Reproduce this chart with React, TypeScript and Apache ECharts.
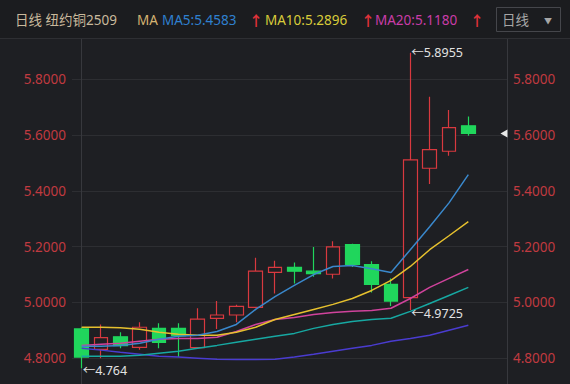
import React, { useEffect, useRef } from "react";
import * as echarts from "echarts";

// ---- data ----
const opens = [4.905, 4.832, 4.877, 4.839, 4.907, 4.907, 4.838, 4.943, 4.955, 4.982, 5.108, 5.126, 5.112, 5.101, 5.207, 5.136, 5.065, 5.017, 5.481, 5.542, 5.633];
const closes = [4.804, 4.874, 4.845, 4.911, 4.857, 4.881, 4.94, 4.955, 4.986, 5.112, 5.126, 5.112, 5.103, 5.199, 5.136, 5.065, 5.005, 5.511, 5.548, 5.627, 5.606];
const lows = [4.764, 4.8, 4.836, 4.83, 4.836, 4.804, 4.836, 4.905, 4.929, 4.979, 5.032, 5.068, 5.092, 5.086, 5.127, 5.036, 4.987, 4.9725, 5.425, 5.526, 5.598];
const highs = [4.91, 4.921, 4.893, 4.929, 4.925, 4.925, 4.979, 5.005, 4.992, 5.16, 5.149, 5.143, 5.199, 5.219, 5.21, 5.148, 5.086, 5.8955, 5.737, 5.69, 5.667];

const ma5 = [4.843, 4.843, 4.846, 4.854, 4.868, 4.879, 4.882, 4.896, 4.921, 4.975, 5.021, 5.061, 5.1, 5.129, 5.132, 5.121, 5.107, 5.189, 5.271, 5.357, 5.4583];
const ma10 = [4.911, 4.911, 4.909, 4.904, 4.893, 4.886, 4.882, 4.882, 4.893, 4.911, 4.939, 4.957, 4.975, 4.993, 5.014, 5.043, 5.079, 5.129, 5.189, 5.239, 5.2896];
const ma20 = [4.846, 4.85, 4.854, 4.861, 4.868, 4.871, 4.871, 4.875, 4.896, 4.921, 4.939, 4.946, 4.957, 4.964, 4.968, 4.971, 4.979, 5.014, 5.054, 5.086, 5.118];
const maTeal = [4.807, 4.807, 4.807, 4.811, 4.818, 4.825, 4.836, 4.846, 4.857, 4.868, 4.879, 4.889, 4.907, 4.921, 4.932, 4.939, 4.943, 4.968, 4.996, 5.025, 5.054];
const maPurple = [4.836, 4.829, 4.821, 4.814, 4.807, 4.804, 4.8, 4.796, 4.795, 4.795, 4.796, 4.804, 4.814, 4.825, 4.836, 4.846, 4.861, 4.871, 4.882, 4.9, 4.918];

const titleText = "日线 纽约铜2509";
const maTitle = "MA";
const maLegend = ["MA5:5.4583", "MA10:5.2896", "MA20:5.1180"];
const periodText = "日线";
const highMark = { index: 17, value: 5.8955, text: "5.8955" };
const lowMark = { index: 17, value: 4.9725, text: "4.9725" };
const minMark = { index: 0, value: 4.764, text: "4.764" };

const BG = "#1e1f23";
const RED = "#d8393f";
const GREEN = "#20d65c";
const FONT = "'Noto Sans', 'Noto Sans CJK SC', sans-serif";

export default function App() {
  const ref = useRef<HTMLDivElement>(null);
  useEffect(() => {
    document.body.style.margin = "0";
    const chart = echarts.init(ref.current!, null, { renderer: "svg" });
    const candle = opens.map((o, i) => [i, o, closes[i], lows[i], highs[i]]);
    const line = (vals: number[], color: string, name: string) => ({
      type: "line",
      name,
      data: vals.map((v, i) => [i, v]),
      symbol: "none",
      silent: true,
      z: 4,
      lineStyle: { width: 1.5, color },
      itemStyle: { color },
    });
    const last = closes.length - 1;
    const markLabel = (m: { index: number; value: number; text: string }, dy: number) => ({
      coord: [m.index, m.value],
      value: m.text,
      symbol: "circle",
      symbolSize: 0,
      label: {
        show: true,
        position: "right",
        distance: 1,
        offset: [0, dy],
        formatter: "←{c}",
        color: "#e2e2e2",
        fontSize: 12.5,
        fontFamily: FONT,
      },
    });
    const yCommon = {
      type: "value",
      min: 4.6,
      max: 6.0,
      interval: 0.2,
      axisTick: { show: false },
      axisLine: { show: true, lineStyle: { color: "#37383d", width: 1 } },
      axisLabel: {
        color: "#c03a40",
        fontSize: 13.5,
        fontFamily: FONT,
        formatter: (v: number) => v.toFixed(4),
        showMaxLabel: false,
        showMinLabel: false,
      },
    };
    const headerY = 20;
    const hText = (x: number, text: string, fill: string, extra: any = {}) => ({
      type: "text",
      x,
      y: headerY,
      z: 101,
      style: {
        text,
        fill,
        font: `13.5px ${FONT}`,
        textVerticalAlign: "middle",
        ...extra,
      },
    });
    chart.setOption({
      animation: false,
      backgroundColor: BG,
      grid: { left: 72, right: 63, top: 23.5, bottom: 0 },
      xAxis: {
        type: "value",
        min: -0.5,
        max: 22,
        show: false,
        splitLine: { show: false },
      },
      yAxis: [
        {
          ...yCommon,
          position: "left",
          axisLabel: { ...yCommon.axisLabel, margin: 6 },
          splitLine: { show: true, lineStyle: { color: "#2d2e32", width: 1 } },
        },
        {
          ...yCommon,
          position: "right",
          axisLabel: { ...yCommon.axisLabel, margin: 6 },
          splitLine: { show: false },
        },
      ],
      series: [
        {
          type: "candlestick",
          data: candle,
          barWidth: 14,
          z: 3,
          itemStyle: {
            color: BG,
            color0: GREEN,
            borderColor: RED,
            borderColor0: GREEN,
            borderWidth: 1.2,
          },
          markPoint: {
            silent: true,
            animation: false,
            data: [
              markLabel(highMark, 0),
              markLabel(lowMark, 3),
              markLabel(minMark, 2),
              {
                coord: [21.84, closes[last]],
                symbol: "triangle",
                symbolRotate: 90,
                symbolSize: [8, 7],
                itemStyle: { color: "#e8e8e8" },
                label: { show: false },
              },
            ],
          },
        },
        line(maPurple, "#4a3cd0", "MA60"),
        line(maTeal, "#17a8a2", "MA30"),
        line(ma20, "#d0439c", "MA20"),
        line(ma10, "#e6c02e", "MA10"),
        line(ma5, "#3a88cc", "MA5"),
      ],
      graphic: [
        {
          type: "rect",
          z: 100,
          shape: { x: 0, y: 0, width: 570, height: 38 },
          style: { fill: "#1b1c1f" },
        },
        {
          type: "line",
          z: 100,
          shape: { x1: 0, y1: 38.5, x2: 570, y2: 38.5 },
          style: { stroke: "#2e2f33", lineWidth: 1 },
        },
        hText(15, titleText, "#c9b99c"),
        hText(137, maTitle, "#d4b372"),
        hText(162, maLegend[0], "#2f80cf"),
        hText(249, "↑", "#e2323a", { font: `bold 14px ${FONT}` }),
        hText(265, maLegend[1], "#d8cb3a"),
        hText(361, "↑", "#e2323a", { font: `bold 14px ${FONT}` }),
        hText(375, maLegend[2], "#c93ca8"),
        hText(470, "↑", "#e2323a", { font: `bold 14px ${FONT}` }),
        {
          type: "rect",
          z: 101,
          shape: { x: 496.5, y: 7.5, width: 64, height: 24 },
          style: { fill: "#1b1c1f", stroke: "#45464b", lineWidth: 1 },
        },
        hText(502, periodText, "#a6a6a6"),
        hText(544, "▼", "#a6a6a6", { font: `8px ${FONT}` }),
      ],
    });
    return () => chart.dispose();
  }, []);
  return (
    <div
      ref={ref}
      style={{ position: "fixed", left: 0, top: 0, width: 570, height: 414 }}
    />
  );
}
